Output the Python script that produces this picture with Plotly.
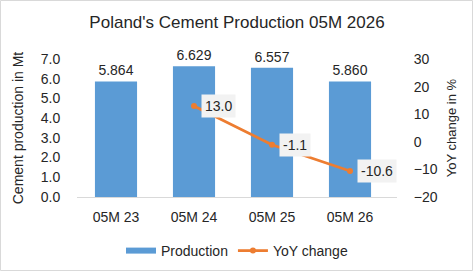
import plotly.graph_objects as go

categories = ["05M 23", "05M 24", "05M 25", "05M 26"]
production = [5.864, 6.629, 6.557, 5.860]
yoy_cats = ["05M 24", "05M 25", "05M 26"]
yoy = [13.0, -1.1, -10.6]

FONT = "Liberation Sans"
TXT = "#262626"
BLUE = "#5B9BD5"
ORANGE = "#ED7D31"
W, H = 474, 271
L, R, T, B = 77, 77, 59, 74
pw, ph = W - L - R, H - T - B

fig = go.Figure()
fig.add_trace(go.Bar(
    x=categories, y=production, name="Production", showlegend=False,
    marker=dict(color=BLUE, line=dict(width=0)),
    texttemplate="%{y:.3f}", textposition="outside",
    textfont=dict(size=14, color=TXT, family=FONT),
    cliponaxis=False,
))
# legend entry for bars drawn as a wide swatch
fig.add_trace(go.Scatter(
    x=[None], y=[None], name="Production", mode="lines",
    line=dict(color=BLUE, width=6), showlegend=True,
))
fig.add_trace(go.Scatter(
    x=yoy_cats, y=yoy, name="YoY change", yaxis="y2",
    mode="lines+markers",
    line=dict(color=ORANGE, width=2.75),
    marker=dict(color=ORANGE, size=6),
))

annotations = []
for c, v in zip(yoy_cats, yoy):
    annotations.append(dict(
        x=c, y=v, xref="x", yref="y2", text=f"{v:.1f}",
        showarrow=False, xanchor="left", yanchor="middle", xshift=7,
        bgcolor="#F2F2F2", borderpad=3,
        font=dict(size=14, color=TXT, family=FONT),
    ))

fig.update_layout(
    width=W, height=H,
    margin=dict(l=L, r=R, t=T, b=B, autoexpand=False),
    paper_bgcolor="white", plot_bgcolor="white",
    font=dict(family=FONT, color=TXT, size=14),
    title=dict(text="Poland's Cement Production 05M 2026", x=0.5, xanchor="center",
               y=1 - 22 / H, yanchor="middle", font=dict(size=17, color=TXT, family=FONT)),
    bargap=0.46,
    showlegend=True,
    legend=dict(orientation="h", x=0.5, xanchor="center", y=(197 - 251) / ph,
                yanchor="middle", font=dict(size=14, color=TXT, family=FONT),
                traceorder="normal", bgcolor="rgba(0,0,0,0)"),
    xaxis=dict(showline=True, linecolor="#D9D9D9", linewidth=1,
               ticks="outside", ticklen=7, tickcolor="rgba(0,0,0,0)",
               tickfont=dict(size=14, color=TXT), showgrid=False),
    yaxis=dict(range=[0, 7], dtick=1, tickformat=".1f", showgrid=False, zeroline=False,
               ticks="outside", ticklen=13, tickcolor="rgba(0,0,0,0)",
               title=dict(text="Cement production in Mt", font=dict(size=14, color=TXT), standoff=13),
               tickfont=dict(size=14, color=TXT)),
    yaxis2=dict(range=[-20, 30], dtick=10, overlaying="y", side="right", showgrid=False,
                zeroline=False, ticks="outside", ticklen=13, tickcolor="rgba(0,0,0,0)",
                title=dict(text="YoY change in %", font=dict(size=13, color=TXT), standoff=10),
                tickfont=dict(size=14, color=TXT)),
    annotations=annotations,
    shapes=[dict(type="rect", xref="paper", yref="paper",
                 x0=(0.5 - L) / pw, x1=(W - 1.5 - L) / pw,
                 y0=-(B - 0.5) / ph, y1=(T - 0.5) / ph + 1,
                 line=dict(color="#D9D9D9", width=1), layer="below")],
)
fig.write_html("out.html")
